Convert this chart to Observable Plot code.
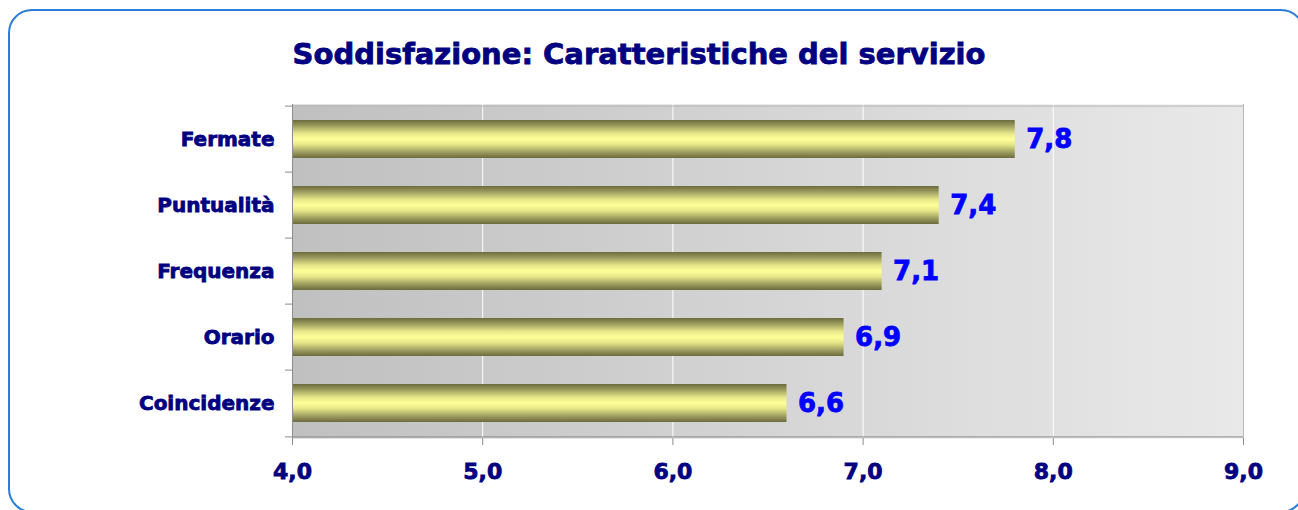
<!DOCTYPE html>
<html><head><meta charset="utf-8">
<script src="https://cdn.jsdelivr.net/npm/d3@7"></script>
<script src="https://cdn.jsdelivr.net/npm/@observablehq/plot@0.6"></script>
<style>
body{margin:0;background:#fff;}
#wrap{position:relative;width:1298px;height:510px;overflow:hidden;font-family:"DejaVu Sans",Verdana,sans-serif;}
#border{position:absolute;left:8px;top:9px;width:1297px;height:504px;border:2px solid #2b7fd9;border-radius:24px;box-sizing:border-box;}
#title{position:relative;width:1278px;height:80px;box-sizing:border-box;padding-top:40px;line-height:29px;font-size:29px;font-weight:bold;color:#000080;text-align:center;white-space:nowrap;-webkit-text-stroke:0.8px #000080;}
#chart{position:relative;}
</style>
</head><body>
<div id="wrap">
  <div id="border"></div>
  <div id="title">Soddisfazione: Caratteristiche del servizio</div>
  <div id="chart"></div>
</div>
<script>
const categories = ["Fermate", "Puntualità", "Frequenza", "Orario", "Coincidenze"];
const values = [7.8, 7.4, 7.1, 6.9, 6.6];
const xTicks = [4, 5, 6, 7, 8, 9];
const gridValues = [5, 6, 7, 8];
const xDomain = [4, 9];

const data = categories.map((c, i) => ({cat: c, value: values[i]}));
const fmt = d => d.toFixed(1).replace(".", ",");

const W = 1298, H = 430, mt = 24, mb = 72, ml = 292, mr = 55;
const pIn = 0.43, pOut = 0.215;
const step = (H - mt - mb) / (categories.length - pIn + 2 * pOut);

const plot = Plot.plot({
  width: W, height: H,
  marginTop: mt, marginBottom: mb, marginLeft: ml, marginRight: mr,
  style: {fontFamily: "'DejaVu Sans', Verdana, sans-serif", background: "transparent", overflow: "visible"},
  x: {domain: xDomain, label: null},
  y: {type: "band", domain: categories, paddingInner: pIn, paddingOuter: pOut, label: null},
  marks: [
    Plot.frame({fill: "url(#bgGrad)", stroke: "none"}),
    Plot.ruleX(gridValues, {stroke: "#ffffff", strokeWidth: 1}),
    Plot.ruleY(categories.slice(0, 1), {y: d => d, x1: xDomain[0], x2: xDomain[1], dy: -step / 2, stroke: "#b8b8b8"}),
    Plot.ruleX([xDomain[1]], {stroke: "#b8b8b8"}),
    Plot.barX(data, {x1: xDomain[0], x2: "value", y: "cat", fill: "url(#barGrad)"}),
    Plot.ruleX([xDomain[0]], {stroke: "#8c8c8c"}),
    Plot.ruleY(categories, {y: d => d, x1: xDomain[0], x2: xDomain[0], insetLeft: -7, dy: -step / 2, stroke: "#8c8c8c"}),
    Plot.ruleY(categories.slice(-1), {y: d => d, x1: xDomain[0], x2: xDomain[1], insetLeft: -7, dy: step / 2, stroke: "#8c8c8c"}),
    Plot.axisX({ticks: xTicks, tickSize: 7, tickPadding: 18, tickFormat: fmt, fontSize: 22, fontWeight: "bold", fill: "#000080", stroke: "#8c8c8c", label: null}),
    Plot.axisY({tickSize: 0, tickPadding: 18, fontSize: 20, fontWeight: "bold", fill: "#000080", label: null}),
    Plot.text(data, {x: "value", y: "cat", text: d => fmt(d.value), dx: 11, textAnchor: "start", fill: "#0000ff", fontSize: 26, fontWeight: "bold"})
  ]
});

const svg = d3.select(plot);
const defs = svg.insert("defs", ":first-child");
const bg = defs.append("linearGradient").attr("id", "bgGrad").attr("x1", "0").attr("x2", "1").attr("y1", "0").attr("y2", "0");
bg.append("stop").attr("offset", "0").attr("stop-color", "#c0c0c0");
bg.append("stop").attr("offset", "1").attr("stop-color", "#e9e9e9");
const bar = defs.append("linearGradient").attr("id", "barGrad").attr("x1", "0").attr("x2", "0").attr("y1", "0").attr("y2", "1");
[[0, "#6b6b3e"], [0.15, "#9c9c5e"], [0.35, "#e6e688"], [0.5, "#ffff99"], [0.65, "#e6e688"], [0.85, "#9c9c5e"], [1, "#6b6b3e"]]
  .forEach(([o, c]) => bar.append("stop").attr("offset", o).attr("stop-color", c));

document.getElementById("chart").appendChild(plot);
svg.selectAll("text").each(function() {
  const f = getComputedStyle(this).fill;
  d3.select(this).attr("stroke", f).attr("stroke-width", 0.8).attr("paint-order", "stroke");
});
</script>
</body></html>
